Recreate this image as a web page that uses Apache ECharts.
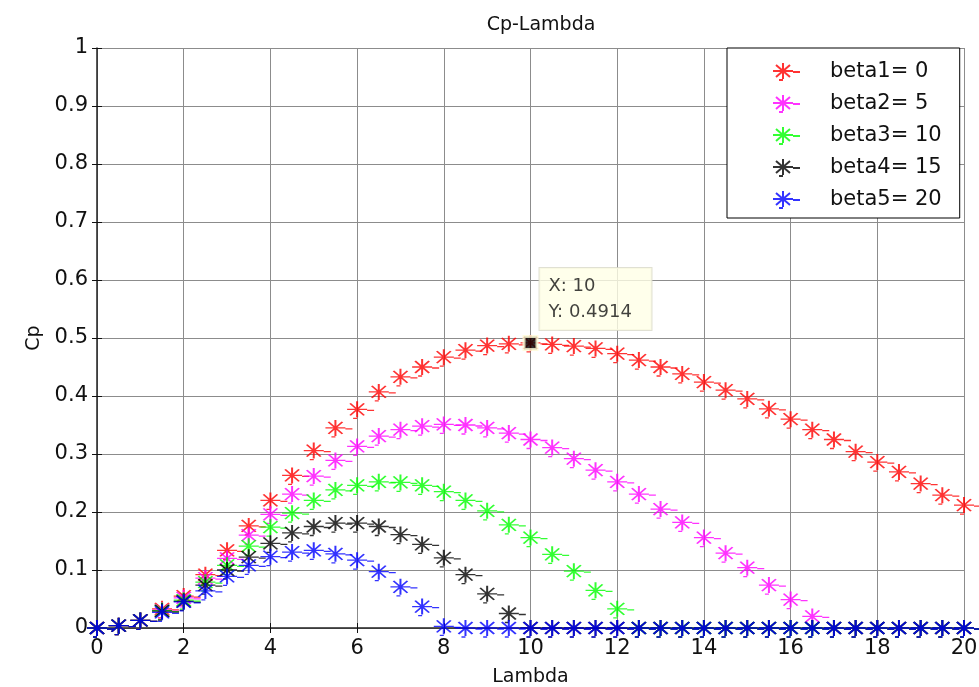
<!DOCTYPE html>
<html>
<head>
<meta charset="utf-8">
<script src="https://cdn.jsdelivr.net/npm/echarts@6/dist/echarts.min.js"></script>
<style>
  html, body { margin: 0; padding: 0; background: #fff; }
  #chart { width: 979px; height: 687px; }
</style>
</head>
<body>
<div id="chart"></div>
<script>
// Power coefficient Cp against tip-speed ratio Lambda, one curve per pitch angle
const lambda = [];
for (let i = 0; i <= 40; i++) lambda.push(i / 2);

const seriesNames = ['beta1= 0', 'beta2= 5', 'beta3= 10', 'beta4= 15', 'beta5= 20'];
const seriesColors = ['#ff0000', '#ff00ff', '#00ff00', '#000000', '#0000ff'];

const cpBeta0 = [0, 0.004, 0.013, 0.033, 0.055, 0.092, 0.134, 0.176, 0.220, 0.263,
  0.306, 0.345, 0.377, 0.407, 0.433, 0.450, 0.467, 0.479, 0.487, 0.490,
  0.4914, 0.489, 0.486, 0.482, 0.473, 0.462, 0.450, 0.438, 0.424, 0.410,
  0.395, 0.378, 0.360, 0.342, 0.325, 0.304, 0.286, 0.269, 0.249, 0.229, 0.212];
const cpBeta5 = [0, 0.004, 0.013, 0.031, 0.052, 0.086, 0.120, 0.160, 0.196, 0.231,
  0.262, 0.289, 0.313, 0.331, 0.342, 0.348, 0.351, 0.350, 0.345, 0.336,
  0.325, 0.311, 0.292, 0.272, 0.252, 0.231, 0.205, 0.182, 0.156, 0.129,
  0.104, 0.074, 0.049, 0.020, 0, 0, 0, 0, 0, 0, 0];
const cpBeta10 = [0, 0.004, 0.013, 0.030, 0.048, 0.079, 0.108, 0.141, 0.174, 0.198,
  0.220, 0.238, 0.246, 0.252, 0.251, 0.246, 0.235, 0.220, 0.202, 0.178,
  0.156, 0.127, 0.098, 0.065, 0.033, 0, 0, 0, 0, 0,
  0, 0, 0, 0, 0, 0, 0, 0, 0, 0, 0];
const cpBeta15 = [0, 0.004, 0.013, 0.029, 0.046, 0.074, 0.100, 0.122, 0.146, 0.164,
  0.175, 0.181, 0.181, 0.175, 0.161, 0.144, 0.121, 0.092, 0.059, 0.025,
  0, 0, 0, 0, 0, 0, 0, 0, 0, 0,
  0, 0, 0, 0, 0, 0, 0, 0, 0, 0, 0];
const cpBeta20 = [0, 0.004, 0.013, 0.027, 0.045, 0.064, 0.089, 0.108, 0.123, 0.131,
  0.134, 0.128, 0.117, 0.097, 0.071, 0.037, 0.003, 0, 0, 0,
  0, 0, 0, 0, 0, 0, 0, 0, 0, 0,
  0, 0, 0, 0, 0, 0, 0, 0, 0, 0, 0];
const cpSeries = [cpBeta0, cpBeta5, cpBeta10, cpBeta15, cpBeta20];

// Data cursor on the beta = 0 curve
const tipX = 10;
const tipY = 0.4914;

const xTickLabels = ['0', '2', '4', '6', '8', '10', '12', '14', '16', '18', '20'];
const yTickLabels = ['0', '0.1', '0.2', '0.3', '0.4', '0.5', '0.6', '0.7', '0.8', '0.9', '1'];

// Asterisk marker with a short trailing dash
const starPath = 'path://M0,-8L0,8M-10,0L10,0M-7,-6L7,6M-7,6L7,-6M10,1L17,1M-4,9L0,9';

const font = 'DejaVu Sans';

const series = cpSeries.map((vals, k) => ({
  name: seriesNames[k],
  type: 'scatter',
  data: vals.map((v, i) => [lambda[i], v]),
  symbol: starPath,
  symbolSize: [27, 17],
  symbolOffset: [3.5, 0.5],
  itemStyle: { color: 'transparent', borderColor: seriesColors[k], borderWidth: 1.6 },
  emphasis: { disabled: true },
  silent: true,
  z: 2 + k
}));

series.push({
  name: 'datatip',
  type: 'scatter',
  data: [[tipX, tipY]],
  symbol: 'rect',
  symbolSize: 13,
  itemStyle: { color: '#000', borderColor: '#fffbd6', borderWidth: 3 },
  z: 20,
  silent: true,
  label: {
    show: true,
    position: [17, -67],
    formatter: 'X: ' + tipX + '\nY: ' + tipY,
    fontFamily: font,
    fontSize: 18,
    lineHeight: 26,
    color: '#111',
    backgroundColor: '#ffffe6',
    borderColor: '#d8d8c8',
    borderWidth: 1,
    padding: [5, 8, 5, 9],
    width: 95
  }
});

const chart = echarts.init(document.getElementById('chart'), null, { renderer: 'canvas' });

chart.setOption({
  backgroundColor: '#fff',
  animation: false,
  title: {
    text: 'Cp-Lambda',
    left: 536,
    top: 11,
    textAlign: 'center',
    textStyle: { fontFamily: font, fontSize: 19, fontWeight: 'normal', color: '#111' }
  },
  legend: {
    data: seriesNames,
    orient: 'vertical',
    left: 727,
    top: 48,
    width: 236,
    padding: [13, 18, 8, 45],
    itemGap: 11,
    itemWidth: 27,
    itemHeight: 17,
    backgroundColor: '#fff',
    borderColor: '#000',
    borderWidth: 1,
    borderRadius: 0,
    selectedMode: false,
    textStyle: { fontFamily: font, fontSize: 21, lineHeight: 21, color: '#111', padding: [0, 0, 0, 25] }
  },
  grid: { left: 97, right: 15, top: 48, bottom: 59, containLabel: false, outerBoundsMode: 'none' },
  xAxis: [{
    type: 'value',
    min: 0, max: 20, interval: 2,
    name: 'Lambda',
    nameLocation: 'middle',
    nameGap: 40,
    nameTextStyle: { fontFamily: font, fontSize: 19, color: '#111' },
    axisLine: { show: true, onZero: false, lineStyle: { color: '#222', width: 1.5 } },
    axisTick: { show: true, inside: true, length: 5, lineStyle: { color: '#111' } },
    axisLabel: {
      fontFamily: font, fontSize: 21, color: '#111', margin: 10,
      formatter: (v) => xTickLabels[Math.round(v / 2)]
    },
    splitLine: { show: true, lineStyle: { color: '#8c8c8c', width: 1 } }
  }, {
    type: 'value',
    position: 'top',
    min: 0, max: 20, interval: 2,
    axisLine: { show: false },
    axisTick: { show: true, inside: true, length: 5, lineStyle: { color: '#111' } },
    axisLabel: { show: false },
    splitLine: { show: false }
  }],
  yAxis: [{
    type: 'value',
    min: 0, max: 1, interval: 0.1,
    name: 'Cp',
    nameLocation: 'middle',
    nameGap: 38,
    nameTextStyle: { fontFamily: font, fontSize: 19, color: '#111' },
    axisLine: { show: true, onZero: false, lineStyle: { color: '#222', width: 1.5 } },
    axisTick: { show: true, inside: true, length: 5, lineStyle: { color: '#111' } },
    axisLabel: {
      fontFamily: font, fontSize: 21, color: '#111', margin: 9,
      formatter: (v) => yTickLabels[Math.round(v * 10)]
    },
    splitLine: { show: true, lineStyle: { color: '#8c8c8c', width: 1 } }
  }, {
    type: 'value',
    position: 'right',
    min: 0, max: 1, interval: 0.1,
    axisLine: { show: false },
    axisTick: { show: true, inside: true, length: 5, lineStyle: { color: '#111' } },
    axisLabel: { show: false },
    splitLine: { show: false }
  }],
  series: series
});
</script>
</body>
</html>
